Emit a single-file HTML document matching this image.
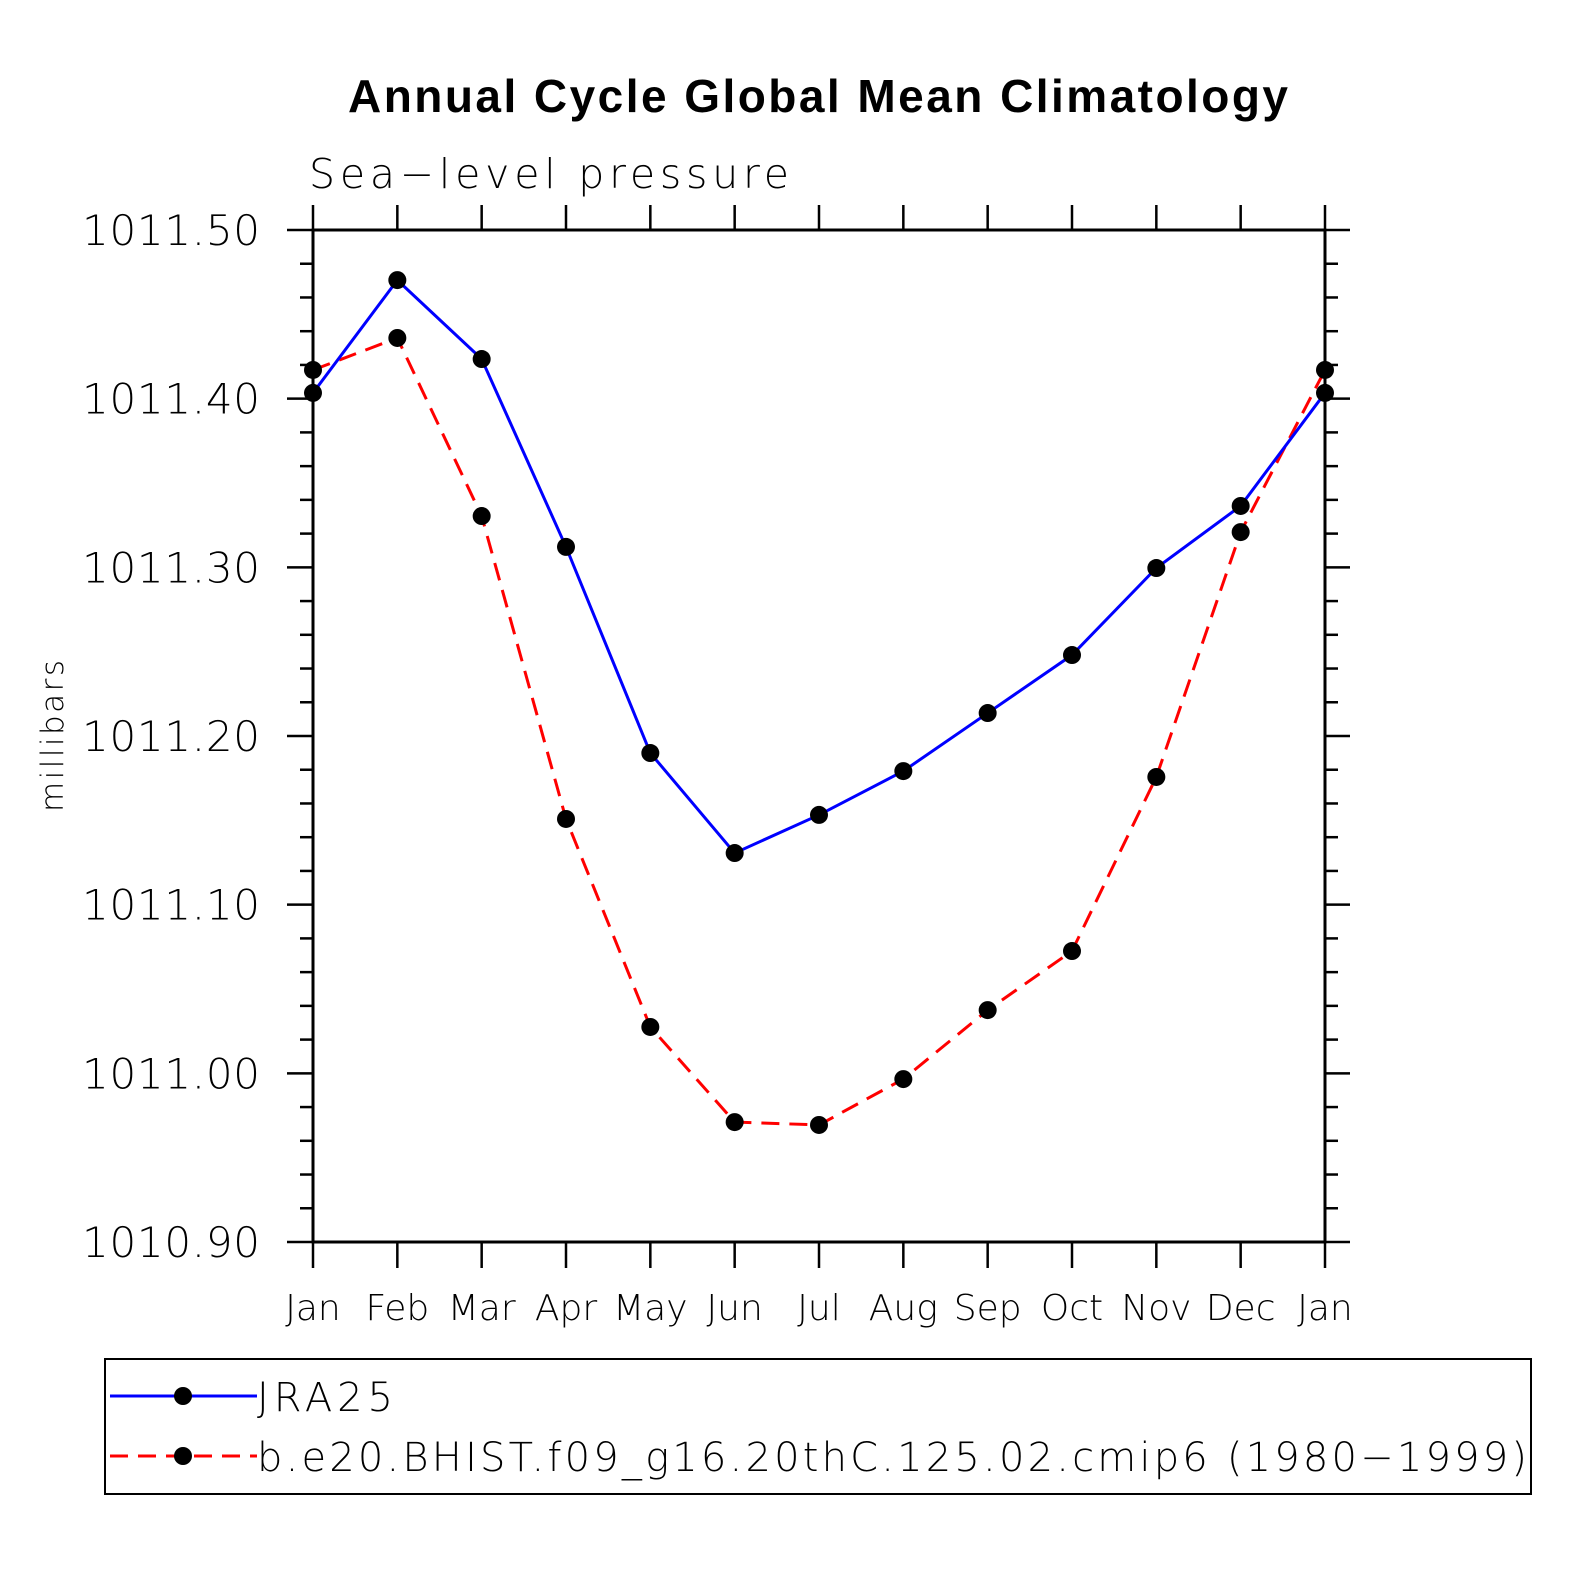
<!DOCTYPE html>
<html><head><meta charset="utf-8"><style>
html,body{margin:0;padding:0;background:#fff}
svg{display:block}
text{font-family:"DejaVu Sans","Liberation Sans",sans-serif}
</style></head><body>
<svg id="chart" width="1574" height="1574" viewBox="0 0 1574 1574" xmlns="http://www.w3.org/2000/svg">
<text x="818" y="112" text-anchor="middle" style="font-family:'Liberation Sans',sans-serif;font-weight:bold" font-size="46" textLength="940">Annual Cycle Global Mean Climatology</text>
<text x="309" y="188" font-size="41" font-weight="200" textLength="480">Sea−level pressure</text>
<text transform="translate(63,736) rotate(-90)" text-anchor="middle" font-size="31" font-weight="200" textLength="152">millibars</text>
<g id="axes"></g>
<g id="series"></g>
<rect x="105" y="1359" width="1426" height="135" fill="none" stroke="#000" stroke-width="2"/>
<g>
<line x1="110" y1="1396" x2="257" y2="1396" stroke="#0000ff" stroke-width="3"/>
<circle cx="183" cy="1396" r="9" fill="#000"/>
<text x="257" y="1411" font-size="40" font-weight="200" textLength="136">JRA25</text>
</g>
<g>
<line x1="110" y1="1456" x2="257" y2="1456" stroke="#ff0000" stroke-width="3" stroke-dasharray="18,10"/>
<circle cx="183" cy="1456" r="9" fill="#000"/>
<text x="257" y="1471" font-size="40" font-weight="200" textLength="1270">b.e20.BHIST.f09_g16.20thC.125.02.cmip6 (1980−1999)</text>
</g>
</svg>
<script>
const months = ["Jan","Feb","Mar","Apr","May","Jun","Jul","Aug","Sep","Oct","Nov","Dec","Jan"];
const jra25 = [1011.4034,1011.4703,1011.4235,1011.3121,1011.1899,1011.1306,1011.1532,1011.1792,1011.2136,1011.2480,1011.2996,1011.3364,1011.4034];
const model = [1011.4170,1011.4360,1011.3304,1011.1508,1011.0275,1010.9711,1010.9694,1010.9966,1011.0375,1011.0725,1011.1757,1011.3209,1011.4170];
const yTickLabels = ["1010.90","1011.00","1011.10","1011.20","1011.30","1011.40","1011.50"];
const yMin=1010.9, yMax=1011.5;
const X0=313, X1=1325, Y0=1242, Y1=230;
const xs=i=>X0+(X1-X0)*i/(months.length-1);
const ys=v=>Y0-(v-yMin)/(yMax-yMin)*(Y0-Y1);
const NS="http://www.w3.org/2000/svg";
function mk(tag,attrs,parent){const e=document.createElementNS(NS,tag);for(const k in attrs)e.setAttribute(k,attrs[k]);parent.appendChild(e);return e;}
const ax=document.getElementById('axes');
const frame=mk('rect',{x:X0,y:Y1,width:X1-X0,height:Y0-Y1,fill:'none',stroke:'#000','stroke-width':3},ax);


for(let k=0;k<=30;k++){
  const v=yMin+k*0.02, y=ys(v), major=k%5===0;
  mk('line',{x1:major?287:300,y1:y,x2:X0,y2:y,stroke:'#000','stroke-width':2.5},ax);
  mk('line',{x1:X1,y1:y,x2:major?1350:1338,y2:y,stroke:'#000','stroke-width':2.5},ax);
}
yTickLabels.forEach((t,i)=>{
  const tx=mk('text',{x:260,y:ys(parseFloat(t))+15,'text-anchor':'end','font-size':42,'font-weight':200,textLength:178},ax);
  tx.textContent=t;
  
  
});
months.forEach((m,i)=>{
  const x=xs(i);
  mk('line',{x1:x,y1:205,x2:x,y2:Y1,stroke:'#000','stroke-width':2.5},ax);
  mk('line',{x1:x,y1:Y0,x2:x,y2:1268,stroke:'#000','stroke-width':2.5},ax);
  const tx=mk('text',{x:x,y:1320,'text-anchor':'middle','font-size':36,'font-weight':200},ax);
  tx.textContent=m;
  
  
});
const sg=document.getElementById('series');
function drawSeries(vals,color,dash,name){
  const g=mk('g',{},sg);
  
  
  mk('polyline',{points:vals.map((v,i)=>xs(i)+','+ys(v)).join(' '),fill:'none',stroke:color,'stroke-width':3,'stroke-dasharray':dash},g);
  vals.forEach((v,i)=>{
    const c=mk('circle',{cx:xs(i),cy:ys(v),r:9,fill:'#000'},g);
    
    
  });
}
drawSeries(model,'#ff0000','18,10','model-series');
drawSeries(jra25,'#0000ff','none','jra25-series');
</script>
</body></html>
